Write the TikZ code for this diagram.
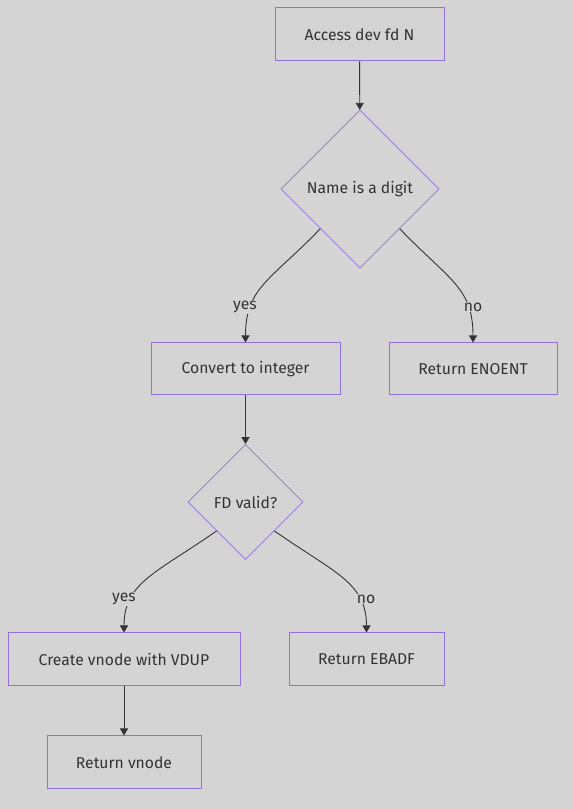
\documentclass[tikz,border=0pt]{standalone}
\usepackage{fontspec}
\setmainfont{Fira Sans}
\usetikzlibrary{shapes.geometric,arrows.meta}
\definecolor{bgc}{HTML}{D4D4D4}
\definecolor{bord}{HTML}{9370DB}
\definecolor{txt}{HTML}{333333}
\begin{document}
\begin{tikzpicture}[x=1pt,y=1pt,
  box/.style={draw=bord,fill=bgc,line width=1pt,inner sep=0pt,text=txt,font=\fontsize{15.7}{18}\selectfont},
  dia/.style={diamond,aspect=1,draw=bord,fill=bgc,line width=0.8pt,inner sep=0pt,text=txt,font=\fontsize{15.7}{18}\selectfont},
  arr/.style={draw=txt,line width=0.9pt,-{Triangle[length=7pt,width=8pt]}},
  lbl/.style={fill=bgc,inner sep=1pt,text=txt,font=\fontsize{15.7}{18}\selectfont}]
\useasboundingbox[fill=bgc] (0,0) rectangle (573,809);
\node[box,minimum width=169pt,minimum height=53pt] (access) at (359.5,774.5) {Access dev fd N};
\node[dia,minimum width=158pt,minimum height=158pt] (d1) at (360,620) {Name is a digit};
\node[box,minimum width=189pt,minimum height=52pt] (conv) at (245.5,440) {Convert to integer};
\node[box,minimum width=168pt,minimum height=52pt] (enoent) at (473,440) {Return ENOENT};
\node[dia,minimum width=115pt,minimum height=115pt] (d2) at (245.5,307) {FD valid?};
\node[box,minimum width=232pt,minimum height=53pt] (create) at (124,149.5) {Create vnode with VDUP};
\node[box,minimum width=155pt,minimum height=53pt] (ebadf) at (366.5,149.5) {Return EBADF};
\node[box,minimum width=154pt,minimum height=53pt] (rvnode) at (124,46.5) {Return vnode};
\draw[arr] (access) -- (d1);
\draw[arr] (d1.south west) .. controls +(-50,-52) and +(0,55) .. (conv.north);
\draw[arr] (d1.south east) .. controls +(50,-52) and +(0,55) .. (enoent.north);
\draw[arr] (conv) -- (d2);
\draw[arr] (d2.south west) .. controls +(-60,-42) and +(0,50) .. (create.north);
\draw[arr] (d2.south east) .. controls +(60,-42) and +(0,50) .. (ebadf.north);
\draw[arr] (create) -- (rvnode);
\node[lbl] (l1) at (245,502) {yes};
\node[lbl] (l2) at (473,502) {no};
\node[lbl] (l3) at (124,210) {yes};
\node[lbl] (l4) at (366,210) {no};
\end{tikzpicture}
\end{document}
